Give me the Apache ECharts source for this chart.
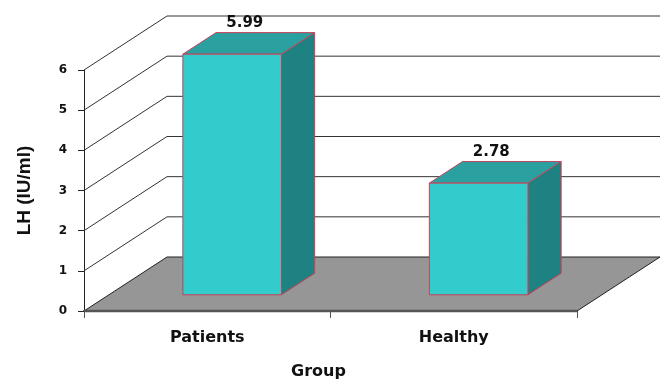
<!DOCTYPE html>
<html>
<head>
<meta charset="utf-8">
<script src="https://cdn.jsdelivr.net/npm/echarts@6/dist/echarts.min.js"></script>
<style>
html, body { margin: 0; padding: 0; background: #fff; }
#chart { width: 665px; height: 381px; }
</style>
</head>
<body>
<div id="chart"></div>
<script>
var groups = ['Patients', 'Healthy'];
var lhValues = [5.99, 2.78];
var yTicks = [0, 1, 2, 3, 4, 5, 6];

var chart = echarts.init(document.getElementById('chart'));

// 3d depth of the plot box and where the bars sit in it
var DX = 83, DY = -54;
var F0 = 0.3, F1 = 0.7;
var FONT = 'DejaVu Sans';

function renderWall(params, api) {
    var v = api.value(0);
    var cs = params.coordSys;
    var y = api.coord([0, v])[1];
    var xl = cs.x, xr = cs.x + cs.width;
    if (v === 0) {
        return {
            type: 'group',
            children: [
                {type: 'polygon', shape: {points: [[xl, y], [xr, y], [xr + DX, y + DY], [xl + DX, y + DY]]},
                 style: {fill: '#969696', stroke: null}},
                {type: 'polyline', shape: {points: [[xl, y], [xl + DX, y + DY], [xr + DX, y + DY], [xr, y]]},
                 style: {stroke: '#222', lineWidth: 1, fill: null}},
                {type: 'line', shape: {x1: xl, y1: y, x2: xr, y2: y},
                 style: {stroke: '#555', lineWidth: 2.5}}
            ]
        };
    }
    return {
        type: 'polyline',
        shape: {points: [[xl, y], [xl + DX, y + DY], [xr + DX, y + DY]]},
        style: {stroke: '#333', lineWidth: 1, fill: null}
    };
}

function renderBar(params, api) {
    var i = api.value(0), v = api.value(1);
    var base = api.coord([i, 0]);
    var top = api.coord([i, v]);
    var band = api.size([1, 0])[0];
    var w = band * 0.4;
    var x0 = base[0] - w / 2 + F0 * DX, x1 = x0 + w;
    var yb = base[1] + F0 * DY, yt = top[1] + F0 * DY;
    var ddx = (F1 - F0) * DX, ddy = (F1 - F0) * DY;
    var edge = '#c8405a';
    return {
        type: 'group',
        children: [
            {type: 'polygon', shape: {points: [[x1, yt], [x1 + ddx, yt + ddy], [x1 + ddx, yb + ddy], [x1, yb]]},
             style: {fill: '#1f8282', stroke: edge, lineWidth: 1}},
            {type: 'polygon', shape: {points: [[x0, yt], [x1, yt], [x1 + ddx, yt + ddy], [x0 + ddx, yt + ddy]]},
             style: {fill: '#2aa0a0', stroke: edge, lineWidth: 1}},
            {type: 'rect', shape: {x: x0, y: yt, width: w, height: yb - yt},
             style: {fill: '#33cccc', stroke: edge, lineWidth: 1}},
            {type: 'text', style: {text: v.toFixed(2), x: (x0 + x1) / 2 + ddx / 2 - 4, y: yt + ddy - 2,
             align: 'center', verticalAlign: 'bottom', font: 'bold 15px "DejaVu Sans"', fill: '#111'}}
        ]
    };
}

var option = {
    backgroundColor: '#fff',
    animation: false,
    grid: {left: 84, right: 88, top: 70, bottom: 70, outerBoundsMode: 'none'},
    xAxis: {
        type: 'category',
        data: groups,
        name: 'Group',
        nameLocation: 'middle',
        nameGap: 53,
        nameTextStyle: {fontFamily: FONT, fontWeight: 'bold', fontSize: 16, color: '#111',
                        verticalAlign: 'top', padding: [0, 24, 0, 0]},
        axisLine: {lineStyle: {color: '#555', width: 2}},
        axisTick: {show: true, length: 7, lineStyle: {color: '#555'}},
        axisLabel: {fontFamily: FONT, fontWeight: 'bold', fontSize: 16, color: '#111', margin: 19},
        splitLine: {show: false}
    },
    yAxis: {
        type: 'value',
        min: 0,
        max: 6,
        interval: 1,
        name: 'LH (IU/ml)',
        nameLocation: 'middle',
        nameGap: 50,
        nameRotate: 90,
        nameTextStyle: {fontFamily: 'Arial', fontWeight: 'bold', fontSize: 19, color: '#111'},
        axisLine: {show: true, lineStyle: {color: '#222', width: 1}},
        axisTick: {show: true, length: 6, lineStyle: {color: '#222'}},
        axisLabel: {fontFamily: FONT, fontWeight: 'bold', fontSize: 12, color: '#111', margin: 17},
        splitLine: {show: false}
    },
    series: [
        {
            type: 'custom',
            name: 'wall',
            clip: false,
            silent: true,
            z: 1,
            renderItem: renderWall,
            encode: {y: 0},
            data: yTicks.map(function (t) { return [t]; })
        },
        {
            type: 'custom',
            name: 'LH',
            clip: false,
            z: 3,
            renderItem: renderBar,
            encode: {x: 0, y: 1},
            data: lhValues.map(function (v, i) { return [i, v]; })
        }
    ]
};
chart.setOption(option);
</script>
</body>
</html>
